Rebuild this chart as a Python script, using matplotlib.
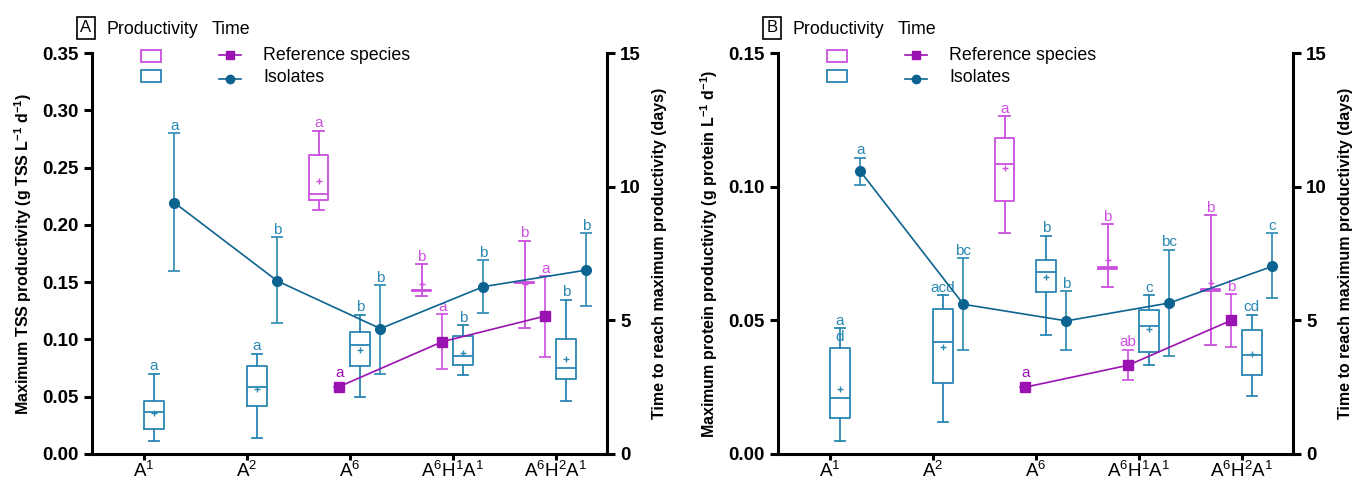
import numpy as np
import matplotlib
matplotlib.use('Agg')
from matplotlib import pyplot as plt
from matplotlib.lines import Line2D
from matplotlib.patches import Rectangle

plt.rcParams['font.family'] = ['Liberation Sans', 'DejaVu Sans']
plt.rcParams['mathtext.fontset'] = 'custom'
plt.rcParams['mathtext.rm'] = 'Liberation Sans'
plt.rcParams['mathtext.it'] = 'Liberation Sans:italic'
plt.rcParams['mathtext.bf'] = 'Liberation Sans:bold'

categories = [r'A$^1$', r'A$^2$', r'A$^6$', r'A$^6$H$^1$A$^1$', r'A$^6$H$^2$A$^1$']

# box stats: whislo, q1, med, q3, whishi, mean
a_iso_box = [[0.0113, 0.0220, 0.0368, 0.0464, 0.0700, 0.0362],
             [0.0136, 0.0423, 0.0583, 0.0768, 0.0872, 0.0565],
             [0.0501, 0.0768, 0.0948, 0.1064, 0.1214, 0.0910],
             [0.0693, 0.0780, 0.0858, 0.1029, 0.1122, 0.0884],
             [0.0461, 0.0652, 0.0748, 0.1000, 0.1345, 0.0826]]
a_ref_box = [[0.2126, 0.2213, 0.2273, 0.2610, 0.2818, 0.2384],
             [0.1375, 0.1427, 0.1431, 0.1435, 0.1656, 0.1482],
             [0.1096, 0.1491, 0.1495, 0.1499, 0.1860, 0.1487]]
# time: value, low, high
a_iso_time = [[9.40, 6.84, 12.00],
              [6.47, 4.89, 8.10],
              [4.69, 3.01, 6.31],
              [6.26, 5.26, 7.24],
              [6.88, 5.53, 8.25]]
a_ref_time = [[2.52, 2.52, 2.52],
              [4.20, 3.17, 5.22],
              [5.16, 3.61, 6.65]]
a_iso_box_lbl = ['a', 'a', 'b', 'b', 'b']
a_iso_time_lbl = ['a', 'b', 'b', 'b', 'b']
a_ref_box_lbl = ['a', 'b', 'b']
a_ref_time_lbl = ['a', 'a', 'a']

b_iso_box = [[0.0048, 0.0135, 0.0211, 0.0396, 0.0470, 0.0242],
             [0.0121, 0.0267, 0.0420, 0.0541, 0.0593, 0.0399],
             [0.0447, 0.0605, 0.0681, 0.0727, 0.0817, 0.0662],
             [0.0333, 0.0383, 0.0477, 0.0538, 0.0593, 0.0467],
             [0.0217, 0.0296, 0.0370, 0.0462, 0.0521, 0.0375]]
b_ref_box = [[0.0828, 0.0947, 0.1084, 0.1183, 0.1263, 0.1069],
             [0.0624, 0.0693, 0.0696, 0.0699, 0.0859, 0.0726],
             [0.0406, 0.0610, 0.0613, 0.0616, 0.0893, 0.0640]]
b_iso_time = [[10.57, 10.06, 11.07],
              [5.60, 3.89, 7.32],
              [4.98, 3.90, 6.08],
              [5.65, 3.68, 7.63],
              [7.02, 5.83, 8.25]]
b_ref_time = [[2.50, 2.50, 2.50],
              [3.32, 2.76, 3.89],
              [5.00, 4.00, 5.97]]
b_iso_box_lbl = ['a', 'acd', 'b', 'c', 'cd']
b_iso_time_lbl = ['a', 'bc', 'b', 'bc', 'c']
b_ref_box_lbl = ['a', 'b', 'b']
b_ref_time_lbl = ['a', 'ab', 'b']

ISO_BOX = '#2a87b2'
ISO_LINE = '#0d6390'
REF_BOX = '#cc4fdf'
REF_LINE = '#9a12b2'

W, H = 1354, 483


def stats(rows):
    return [dict(whislo=r[0], q1=r[1], med=r[2], q3=r[3], whishi=r[4], mean=r[5])
            for r in rows]


def boxes(ax, rows, pos, color, labels):
    p = dict(color=color, lw=1.3)
    ax.bxp(stats(rows), positions=pos, widths=0.19, capwidths=0.1, showmeans=True,
           boxprops=p, whiskerprops=p, capprops=p, medianprops=p,
           meanprops=dict(marker='+', markeredgecolor=color, markersize=4, mew=1),
           showfliers=False, manage_ticks=False)
    for x, r, t in zip(pos, rows, labels):
        ax.annotate(t, xy=(x, r[4]), xytext=(0, 0.5), textcoords='offset points',
                    ha='center', va='bottom', color=color, fontsize=11)


def times(ax, rows, pos, color, ecolor, marker, labels):
    v = np.array(rows)
    ax.errorbar(pos, v[:, 0], yerr=[v[:, 0] - v[:, 1], v[:, 2] - v[:, 0]],
                fmt='-' + marker, color=color, ecolor=ecolor, ms=7, lw=1.2,
                elinewidth=1.2, capsize=4, capthick=1.2, zorder=4)
    for x, r, t in zip(pos, rows, labels):
        noerr = r[2] == r[0]
        ax.annotate(t, xy=(x, r[2]), xytext=(0, 5 if noerr else 0.5),
                    textcoords='offset points', ha='center', va='bottom',
                    color=color if noerr else ecolor, fontsize=11)


def legend(fig, dx, letter):
    def fx(px):
        return (px + dx) / W

    def fy(py):
        return 1 - py / H
    fig.text(fx(86), fy(28), letter, ha='center', va='center', fontsize=12,
             bbox=dict(boxstyle='square,pad=0.2', fc='white', ec='black', lw=1.2))
    fig.text(fx(107), fy(30), 'Productivity', ha='left', va='center', fontsize=12.8)
    fig.text(fx(212), fy(30), 'Time', ha='left', va='center', fontsize=12.8)
    for py, c in [(56, REF_BOX), (76, ISO_BOX)]:
        fig.add_artist(Rectangle((fx(141), fy(py + 6)), 20 / W, 12 / H,
                                 transform=fig.transFigure, fill=False, ec=c, lw=1.3))
    fig.add_artist(Line2D([fx(219), fx(241)], [fy(55), fy(55)], color=REF_LINE,
                          lw=1.2, transform=fig.transFigure))
    fig.add_artist(Line2D([fx(230)], [fy(55)], color=REF_LINE, marker='s', ms=6,
                          transform=fig.transFigure))
    fig.add_artist(Line2D([fx(219), fx(241)], [fy(79), fy(79)], color=ISO_LINE,
                          lw=1.2, transform=fig.transFigure))
    fig.add_artist(Line2D([fx(230)], [fy(79)], color=ISO_LINE, marker='o', ms=6,
                          transform=fig.transFigure))
    fig.text(fx(263), fy(55), 'Reference species', ha='left', va='center', fontsize=12.8)
    fig.text(fx(263), fy(78), 'Isolates', ha='left', va='center', fontsize=12.8)


def panel(fig, left, ymax, yticks, ylabel, iso_box, ref_box, iso_time, ref_time,
          lbls, letter):
    ax = fig.add_axes([left / W, 29 / H, 515 / W, 401 / H])
    ax2 = ax.twinx()
    x = np.arange(len(categories))
    boxes(ax, iso_box, x + 0.1, ISO_BOX, lbls[0])
    boxes(ax, ref_box, x[2:] - 0.3, REF_BOX, lbls[2])
    times(ax2, iso_time, x + 0.3, ISO_LINE, ISO_BOX, 'o', lbls[1])
    times(ax2, ref_time, x[2:] - 0.1, REF_LINE, REF_BOX, 's', lbls[3])
    ax.set_xlim(-0.5, 4.5)
    ax.set_ylim(0, ymax)
    ax.set_yticks(yticks)
    ax.set_yticklabels(['%.2f' % t for t in yticks], fontweight='bold', fontsize=13.5)
    ax.set_xticks(x)
    ax.set_xticklabels(categories, fontsize=13.5)
    ax.set_ylabel(ylabel, fontweight='bold', fontsize=11.5, labelpad=6)
    ax2.set_ylim(0, 15)
    ax2.set_yticks([0, 5, 10, 15])
    ax2.set_yticklabels(['0', '5', '10', '15'], fontweight='bold', fontsize=13.5)
    ax2.set_ylabel('Time to reach maximum productivity (days)', fontweight='bold',
                   fontsize=11.5, labelpad=8)
    ax.spines['top'].set_visible(False)
    ax.spines['right'].set_visible(False)
    for s in ['top', 'left', 'bottom']:
        ax2.spines[s].set_visible(False)
    for s in ['left', 'bottom']:
        ax.spines[s].set_linewidth(2.2)
    ax2.spines['right'].set_linewidth(2.2)
    ax.tick_params(width=2.2, length=6)
    ax.tick_params(axis='x', length=4.5, pad=0.5)
    ax2.tick_params(width=2.2, length=6)
    legend(fig, left - 92, letter)
    return ax, ax2


fig = plt.figure(figsize=(W / 100, H / 100), dpi=100)
axa = panel(fig, 92, 0.35, np.arange(0, 0.351, 0.05),
            r'Maximum TSS productivity (g TSS L$^{\mathbf{-1}}$ d$^{\mathbf{-1}}$)',
            a_iso_box, a_ref_box, a_iso_time, a_ref_time,
            [a_iso_box_lbl, a_iso_time_lbl, a_ref_box_lbl, a_ref_time_lbl], 'A')
axb = panel(fig, 778, 0.15, [0, 0.05, 0.10, 0.15],
            r'Maximum protein productivity (g protein L$^{\mathbf{-1}}$ d$^{\mathbf{-1}}$)',
            b_iso_box, b_ref_box, b_iso_time, b_ref_time,
            [b_iso_box_lbl, b_iso_time_lbl, b_ref_box_lbl, b_ref_time_lbl], 'B')
# extra letter inside A1 whisker of panel B
axb[0].text(0.1, 0.0410, 'd', ha='center', va='bottom', color=ISO_BOX, fontsize=11)

fig.savefig('out.png', dpi=100)
